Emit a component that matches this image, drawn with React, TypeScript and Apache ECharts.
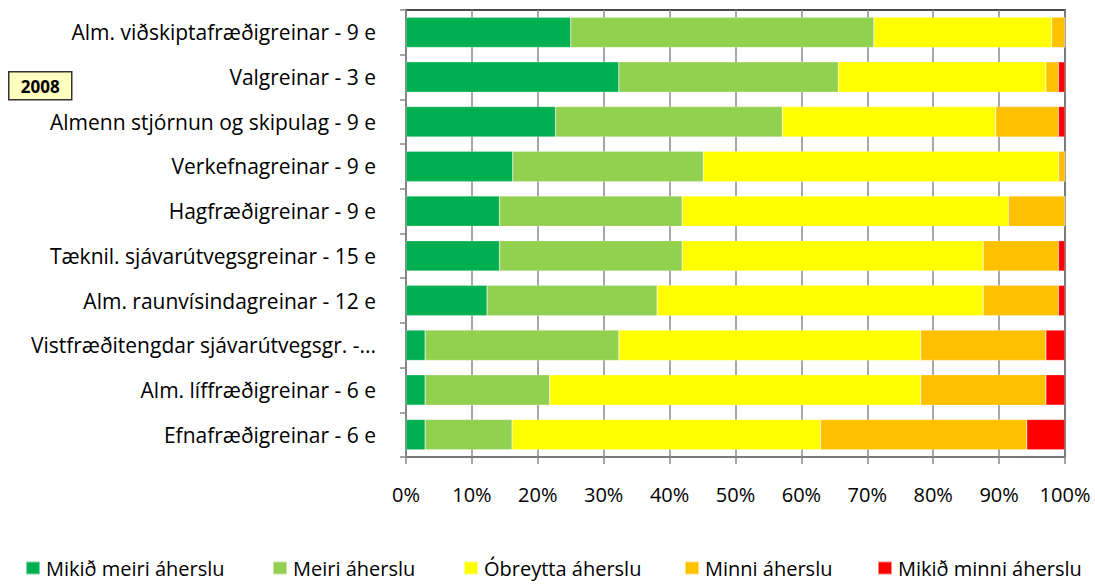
import React, { useEffect, useRef } from "react";
import * as echarts from "echarts";

const categories = [
  "Alm. viðskiptafræðigreinar - 9 e",
  "Valgreinar - 3 e",
  "Almenn stjórnun og skipulag - 9 e",
  "Verkefnagreinar - 9 e",
  "Hagfræðigreinar - 9 e",
  "Tæknil. sjávarútvegsgreinar - 15 e",
  "Alm. raunvísindagreinar - 12 e",
  "Vistfræðitengdar sjávarútvegsgr. -...",
  "Alm. líffræðigreinar - 6 e",
  "Efnafræðigreinar - 6 e",
];

const seriesNames = [
  "Mikið meiri áherslu",
  "Meiri áherslu",
  "Óbreytta áherslu",
  "Minni áherslu",
  "Mikið minni áherslu",
];

const mikidMeiri = [25, 32.3, 22.7, 16.2, 14.2, 14.2, 12.3, 2.9, 2.9, 2.9];
const meiri = [46, 33.3, 34.4, 28.9, 27.7, 27.7, 25.8, 29.4, 18.9, 13.2];
const obreytta = [27, 31.5, 32.4, 53.9, 49.5, 45.7, 49.5, 45.8, 56.3, 46.8];
const minni = [2, 1.9, 9.5, 1, 8.6, 11.4, 11.4, 19.0, 19.0, 31.3];
const mikidMinni = [0, 1.0, 1.0, 0, 0, 1.0, 1.0, 2.9, 2.9, 5.8];

const colors = ["#00B050", "#92D050", "#FFFF00", "#FFC000", "#FF0000"];
const yearLabel = "2008";
const legendLefts = [25, 272, 463, 684, 877];

export default function App() {
  const ref = useRef<HTMLDivElement>(null);
  useEffect(() => {
    if (!ref.current) return;
    const chart = echarts.init(ref.current, null, { renderer: "svg" });
    const data = [mikidMeiri, meiri, obreytta, minni, mikidMinni];
    const font = "'Open Sans', 'Liberation Sans', Arial, sans-serif";
    chart.setOption({
      animation: false,
      textStyle: { fontFamily: font },
      grid: {
        left: 406,
        right: 30,
        top: 10,
        bottom: 127,
        containLabel: false,
        show: true,
        borderColor: "#111",
        borderWidth: 1.5,
        backgroundColor: "transparent",
      },
      xAxis: {
        type: "value",
        min: 0,
        max: 100,
        interval: 10,
        axisLabel: {
          formatter: "{value}%",
          fontSize: 20,
          color: "#000",
          margin: 27,
          fontFamily: font,
        },
        axisLine: { show: true, lineStyle: { color: "#888", width: 1.5 } },
        axisTick: { show: true, length: 7, lineStyle: { color: "#888", width: 1.5 } },
        splitLine: { show: true, lineStyle: { color: "#8a8a8a", width: 1.5 } },
      },
      yAxis: {
        type: "category",
        inverse: true,
        data: categories,
        axisLabel: { fontSize: 21, color: "#000", margin: 30, fontFamily: font },
        axisLine: { show: true, lineStyle: { color: "#888", width: 1.5 } },
        axisTick: { show: true, length: 6, lineStyle: { color: "#888", width: 1.5 } },
        splitLine: { show: false },
      },
      legend: seriesNames.map((name, i) => ({
        top: 557,
        left: legendLefts[i],
        itemWidth: 14,
        itemHeight: 13,
        itemGap: 0,
        padding: 0,
        icon: "rect",
        textStyle: {
          fontSize: 20,
          lineHeight: 22,
          color: "#000",
          fontFamily: font,
          padding: [0, 0, 0, 1],
        },
        data: [name],
      })),
      series: seriesNames.map((name, i) => ({
        name,
        type: "bar",
        stack: "total",
        barCategoryGap: "32%",
        data: data[i],
        itemStyle: { color: colors[i], borderColor: "rgba(255,255,255,0.5)", borderWidth: 0.5 },
        emphasis: { disabled: true },
      })),
      graphic: [
        {
          type: "group",
          left: 8,
          top: 71,
          children: [
            {
              type: "rect",
              shape: { x: 0, y: 0, width: 63, height: 28 },
              style: { fill: "#FFFFC0", stroke: "#333", lineWidth: 1.5 },
            },
            {
              type: "text",
              x: 31.5,
              y: 15,
              style: {
                text: yearLabel,
                fontSize: 17,
                fontWeight: "bold",
                fontFamily: font,
                fill: "#000",
                align: "center",
                verticalAlign: "middle",
              },
            },
          ],
        },
      ],
    });
    return () => chart.dispose();
  }, []);
  return (
    <div
      ref={ref}
      style={{ position: "fixed", left: 0, top: 0, width: 1095, height: 584, background: "#fff" }}
    />
  );
}
